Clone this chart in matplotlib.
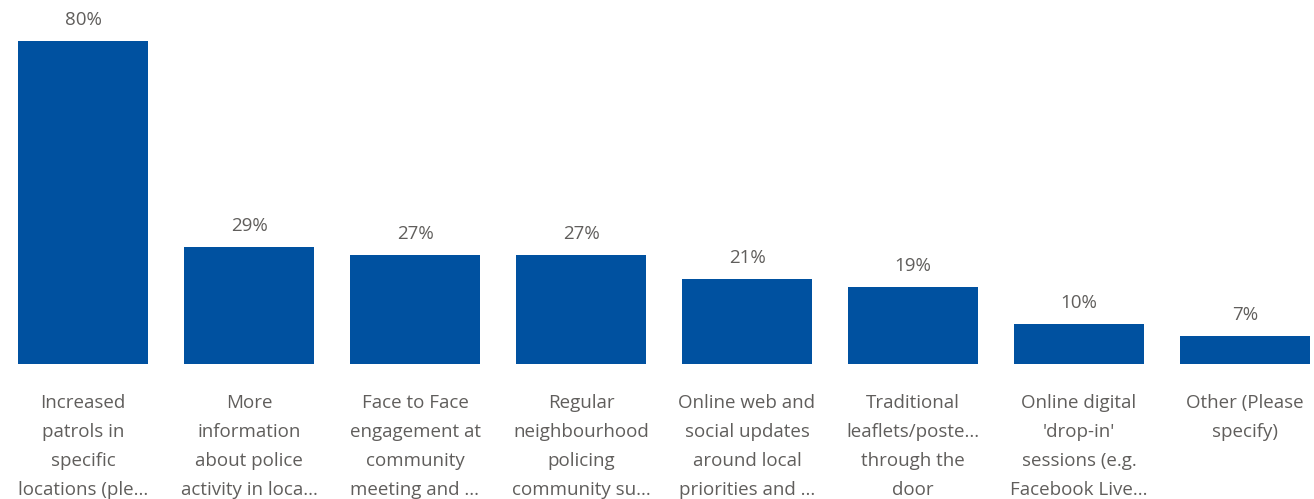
import matplotlib
matplotlib.use("Agg")
import matplotlib.pyplot as plt

categories = [
    "Increased\npatrols in\nspecific\nlocations (ple...",
    "More\ninformation\nabout police\nactivity in loca...",
    "Face to Face\nengagement at\ncommunity\nmeeting and ...",
    "Regular\nneighbourhood\npolicing\ncommunity su...",
    "Online web and\nsocial updates\naround local\npriorities and ...",
    "Traditional\nleaflets/poste...\nthrough the\ndoor",
    "Online digital\n'drop-in'\nsessions (e.g.\nFacebook Live...",
    "Other (Please\nspecify)",
]
values = [80, 29, 27, 27, 21, 19, 10, 7]
value_labels = ["80%", "29%", "27%", "27%", "21%", "19%", "10%", "7%"]

W, H = 1314, 499
fig = plt.figure(figsize=(W / 100, H / 100), dpi=100)
ax = fig.add_axes([0, 1 - 364 / H, 1, 364 / H])
x = list(range(len(values)))
bars = ax.bar(x, values, width=130 / 166, color="#0051A0")
ax.set_xlim(-0.5, 7 + 69 / 166)
ax.set_ylim(0, 364 / 4.0375)
for s in ax.spines.values():
    s.set_visible(False)
ax.set_yticks([])
ax.set_xticks(x)
ax.set_xticklabels(categories, fontsize=13.5, color="#605E5C", family="Open Sans",
                   linespacing=1.79, va="top")
ax.tick_params(axis="x", length=0, pad=21.5)
for xi, v, lab in zip(x, values, value_labels):
    ax.annotate(lab, (xi, v), xytext=(0, 15), textcoords="offset points",
                ha="center", va="center", fontsize=13.5, color="#605E5C",
                family="Open Sans")
fig.savefig("out.png", dpi=100)
